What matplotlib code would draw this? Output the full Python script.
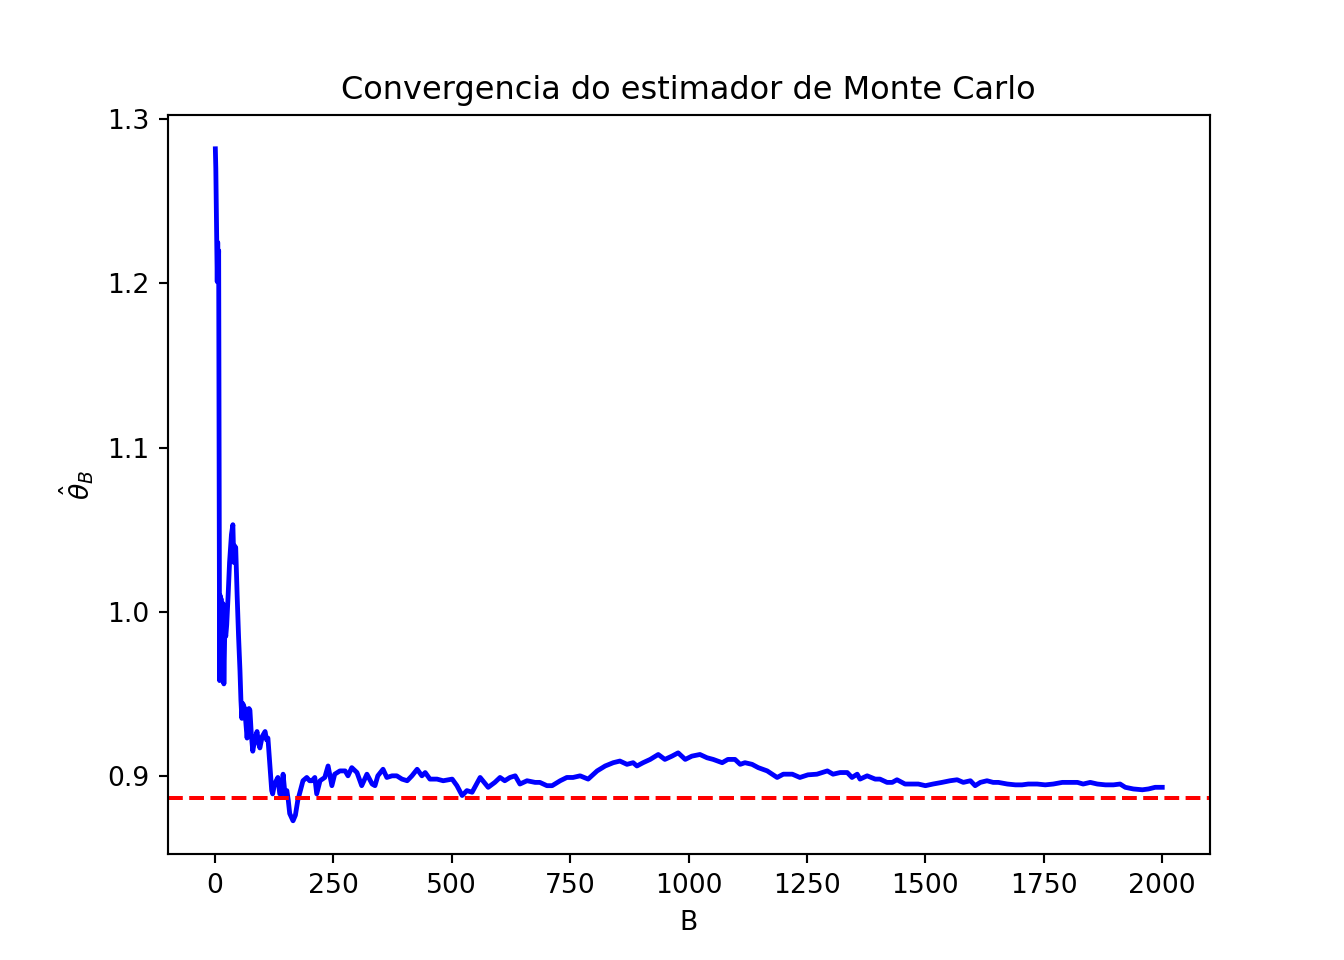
import numpy as np
import matplotlib
matplotlib.use("Agg")
import matplotlib.pyplot as plt

# valores (B, estimativa acumulada)
B = [1, 2, 4, 5, 6, 7, 8, 9, 10, 11, 12, 13, 15, 17, 19, 21, 23, 25, 28, 31,
     35, 38, 40, 42, 44, 47, 50, 53, 55, 57, 59, 63, 66, 68, 72, 74, 77, 80, 84,
     89, 92, 95, 100, 106, 109, 112, 116, 120, 122, 126, 133, 137, 141, 144, 148,
     152, 155, 158, 165, 170, 175, 186, 194, 200, 205, 211, 215, 222, 232, 239,
     247, 253, 264, 275, 281, 289, 300, 310, 321, 332, 338, 344, 355, 363, 374,
     384, 395, 406, 416, 427, 437, 444, 454, 469, 482, 501, 511, 522, 532, 543,
     560, 577, 591, 602, 612, 623, 634, 644, 659, 676, 686, 701, 712, 729, 743,
     756, 771, 788, 807, 824, 841, 855, 870, 883, 891, 904, 919, 936, 950, 965,
     978, 993, 1007, 1024, 1039, 1052, 1071, 1083, 1098, 1109, 1119, 1134, 1147,
     1166, 1187, 1200, 1219, 1235, 1252, 1271, 1293, 1305, 1320, 1335, 1345,
     1356, 1362, 1377, 1394, 1404, 1419, 1430, 1440, 1457, 1474, 1485, 1500,
     1516, 1535, 1552, 1567, 1580, 1595, 1605, 1616, 1630, 1643, 1654, 1673,
     1690, 1704, 1717, 1736, 1753, 1770, 1789, 1806, 1821, 1833, 1848, 1863,
     1880, 1897, 1911, 1922, 1939, 1958, 1971, 1985, 2000]
theta_hat = [1.282, 1.270, 1.226, 1.201, 1.225, 1.203, 1.220, 1.100, 0.958, 1.010,
             0.960, 1.008, 0.970, 1.005, 0.956, 0.990, 0.985, 0.992, 1.010, 1.030,
             1.047, 1.053, 1.030, 1.040, 1.039, 1.010, 0.985, 0.964, 0.946, 0.935,
             0.944, 0.941, 0.930, 0.923, 0.941, 0.940, 0.925, 0.915, 0.922, 0.927,
             0.920, 0.917, 0.924, 0.927, 0.922, 0.923, 0.907, 0.891, 0.889, 0.895,
             0.899, 0.889, 0.889, 0.901, 0.889, 0.891, 0.885, 0.877, 0.8726, 0.876,
             0.885, 0.897, 0.899, 0.897, 0.897, 0.899, 0.889, 0.897, 0.899, 0.906,
             0.894, 0.901, 0.903, 0.903, 0.900, 0.905, 0.902, 0.894, 0.901, 0.895,
             0.894, 0.900, 0.904, 0.899, 0.900, 0.900, 0.898, 0.897, 0.900, 0.904,
             0.900, 0.902, 0.898, 0.898, 0.897, 0.898, 0.894, 0.888, 0.891, 0.890,
             0.899, 0.893, 0.896, 0.899, 0.897, 0.899, 0.900, 0.895, 0.897, 0.896,
             0.896, 0.894, 0.894, 0.897, 0.899, 0.899, 0.900, 0.898, 0.903, 0.906,
             0.908, 0.909, 0.907, 0.908, 0.906, 0.908, 0.910, 0.913, 0.910, 0.912,
             0.914, 0.910, 0.912, 0.913, 0.911, 0.910, 0.908, 0.910, 0.910, 0.907,
             0.908, 0.907, 0.905, 0.903, 0.899, 0.901, 0.901, 0.899, 0.9006, 0.901,
             0.903, 0.901, 0.902, 0.902, 0.899, 0.901, 0.898, 0.900, 0.898, 0.898,
             0.896, 0.896, 0.8976, 0.895, 0.895, 0.895, 0.894, 0.895, 0.896, 0.897,
             0.8976, 0.896, 0.897, 0.894, 0.896, 0.897, 0.896, 0.896, 0.895, 0.8945,
             0.8945, 0.895, 0.895, 0.8945, 0.895, 0.896, 0.896, 0.896, 0.895, 0.896,
             0.895, 0.8945, 0.8945, 0.895, 0.893, 0.892, 0.8915, 0.892, 0.893, 0.893]

theta_true = np.sqrt(np.pi) / 2

fig, ax = plt.subplots(figsize=(7, 5), dpi=192)
ax.plot(B, theta_hat, color="blue", linewidth=1.8)
ax.axhline(theta_true, color="red", linestyle="--")
ax.set_title("Convergencia do estimador de Monte Carlo")
ax.set_xlabel("B")
ax.set_ylabel(r"$\hat{\theta}_B$")
fig.savefig("out.png", dpi=192)
